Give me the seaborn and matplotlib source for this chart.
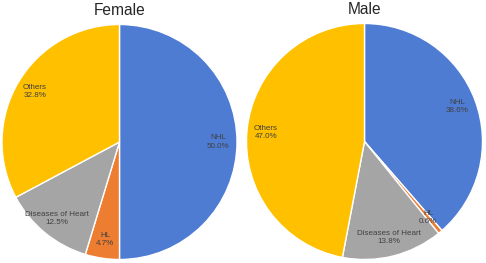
import seaborn as sns
from matplotlib import pyplot as plt

categories = ['NHL', 'HL', 'Diseases of Heart', 'Others']
female_pct = [50.0, 4.7, 12.5, 32.8]
male_pct = [38.6, 0.6, 13.8, 47.0]
colors = ['#4F7CD3', '#ED7D31', '#A5A5A5', '#FFC000']

sns.set_style('white')
plt.rcParams['font.family'] = ['Liberation Sans', 'DejaVu Sans']

fig = plt.figure(figsize=(4.86, 2.63), dpi=100)

panels = [
    ('Female', female_pct, [2.0 / 486, 3.5 / 263, 235.0 / 486, 235.0 / 263]),
    ('Male', male_pct, [246.5 / 486, 3.5 / 263, 236.0 / 486, 236.0 / 263]),
]

for title, values, rect in panels:
    ax = fig.add_axes(rect)
    wedges, _, autotexts = ax.pie(
        values,
        colors=colors,
        startangle=90,
        counterclock=False,
        autopct='%.1f%%',
        pctdistance=0.84,
        wedgeprops={'edgecolor': 'white', 'linewidth': 1.0},
        textprops={'fontsize': 5.8, 'color': '#404040'},
    )
    for t, lab in zip(autotexts, categories):
        t.set_text(f'{lab}\n{t.get_text()}')
        t.set_linespacing(1.25)
    ax.set_xlim(-1, 1)
    ax.set_ylim(-1, 1)
    ax.set_aspect('equal')
    ax.axis('off')
    ax.set_title(title, fontsize=11.2, pad=7)

plt.savefig('out.png', dpi=100)
plt.close()
